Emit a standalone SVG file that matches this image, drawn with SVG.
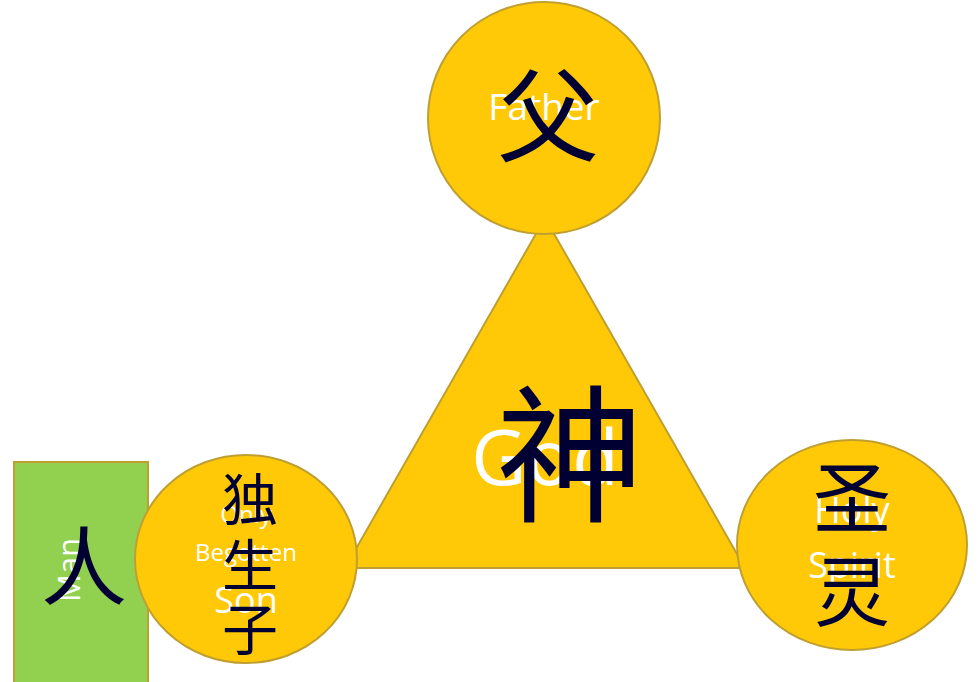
<svg xmlns="http://www.w3.org/2000/svg" width="979" height="682" viewBox="0 0 979 682">
<style>
.shape{fill:#FFC907;stroke:#BF9F30;stroke-width:2}
.en{fill:#FFFFFF;font-family:"Open Sans","Liberation Sans",sans-serif;text-anchor:middle}
.zh{fill:#000033;font-family:"Noto Sans CJK SC","Noto Sans",sans-serif;text-anchor:middle}
</style>
<rect width="979" height="682" fill="#FFFFFF"/>
<g id="connectors"></g>
<g id="god">
<polygon class="shape" points="545,218 345,568 745,568"/>
<text class="en" x="545" y="485" font-size="76">God</text>
<text class="zh" x="570" y="510" font-size="148">神</text>
</g>
<g id="father">
<circle class="shape" cx="544" cy="118" r="116"/>
<text class="en" x="544" y="120" font-size="37">Father</text>
<text class="zh" x="548" y="154" font-size="102">父</text>
</g>
<g id="man">
<rect x="14" y="462" width="134" height="222" fill="#92D050" stroke="#BF9F30" stroke-width="2"/>
<text class="en" transform="translate(80,570) rotate(-90)" x="0" y="0" font-size="31">Man</text>
<text class="zh" x="84" y="599" font-size="86">人</text>
</g>
<g id="son">
<ellipse class="shape" cx="246" cy="559" rx="111" ry="104"/>
<text class="en" x="246" y="523" font-size="24">Only</text>
<text class="en" x="246" y="561" font-size="24">Begotten</text>
<text class="en" x="246" y="613" font-size="36">Son</text>
<text class="zh" x="250" y="520" font-size="56">独</text>
<text class="zh" x="250" y="586" font-size="56">生</text>
<text class="zh" x="250" y="650" font-size="56">子</text>
</g>
<g id="spirit">
<ellipse class="shape" cx="852" cy="545" rx="115" ry="105"/>
<text class="en" x="852" y="523" font-size="36">Holy</text>
<text class="en" x="852" y="578" font-size="36">Spirit</text>
<text class="zh" x="852" y="527" font-size="78">圣</text>
<text class="zh" x="852" y="620" font-size="76">灵</text>
</g>
</svg>
